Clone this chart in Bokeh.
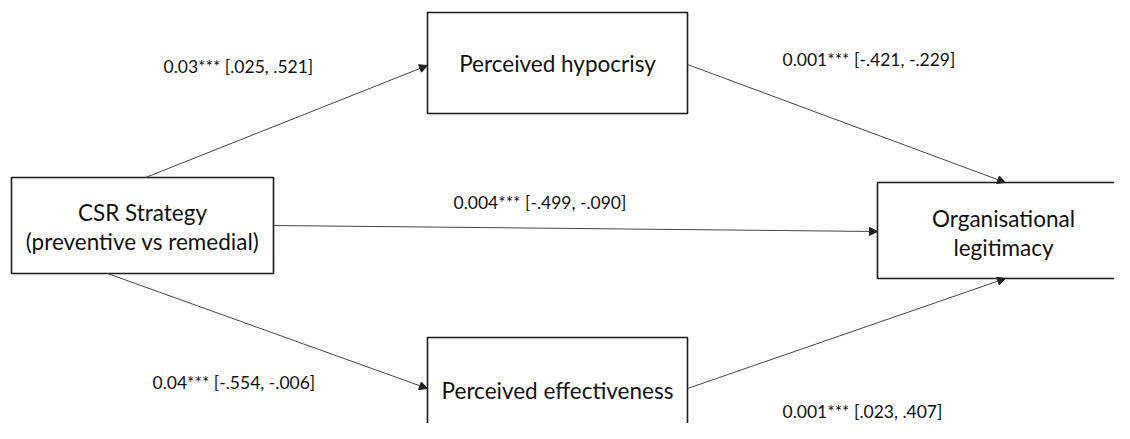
from bokeh.plotting import figure
from bokeh.models import Range1d, Arrow, NormalHead, ColumnDataSource
from bokeh.core.properties import value
from bokeh.embed import file_html
from bokeh.resources import INLINE

# ---- content ----
node_names = ["CSR Strategy\n(preventive vs remedial)", "Perceived hypocrisy",
              "Organisational\nlegitimacy", "Perceived effectiveness"]
path_labels = ["0.03*** [.025, .521]", "0.001*** [-.421, -.229]",
               "0.004*** [-.499, -.090]", "0.04*** [-.554, -.006]",
               "0.001*** [.023, .407]"]

# ---- layout (pixel coordinates of the reference picture) ----
boxes = {  # left, right, top, bottom
    0: (11, 273, 177, 273),
    1: (427, 687, 12, 113),
    2: (877, 1150, 182, 278),
    3: (427, 687, 337, 470),
}
node_text_pos = {0: (142, 226.5), 1: (557, 63), 2: (1003, 232.5), 3: (557, 390)}
arrows = [  # x0, y0, x1, y1
    (145, 177, 427, 65),
    (687, 64, 1005, 182),
    (273, 225, 877, 231),
    (107, 273, 427, 388),
    (687, 388, 1005, 278),
]
label_pos = [(163, 66), (782, 59), (453, 202), (152, 382), (782, 411)]

W, H = 1114, 423
p = figure(width=W, height=H, x_range=Range1d(0, W), y_range=Range1d(H, 0),
           output_backend="svg", toolbar_location=None, min_border=0)
p.axis.visible = False
p.grid.visible = False
p.outline_line_color = None
p.background_fill_color = "white"
p.border_fill_color = "white"

for (x0, y0, x1, y1) in arrows:
    p.add_layout(Arrow(end=NormalHead(size=8, fill_color="#222222", line_color="#222222", line_width=1),
                       x_start=x0, y_start=y0, x_end=x1, y_end=y1,
                       line_color="#444444", line_width=1))

src = ColumnDataSource(dict(
    left=[boxes[i][0] for i in range(4)], right=[boxes[i][1] for i in range(4)],
    top=[boxes[i][2] for i in range(4)], bottom=[boxes[i][3] for i in range(4)]))
p.quad(left="left", right="right", top="top", bottom="bottom", source=src,
       fill_color="white", line_color="#1a1a1a", line_width=1.6)

p.text(x=[node_text_pos[i][0] for i in range(4)], y=[node_text_pos[i][1] for i in range(4)],
       text=node_names, text_align="center", text_baseline="middle",
       text_font=value("Lato"), text_font_size="22.5px", text_color="#111111",
       text_line_height=1.1)

p.text(x=[lp[0] for lp in label_pos], y=[lp[1] for lp in label_pos], text=path_labels,
       text_align="left", text_baseline="middle", text_font=value("Lato"),
       text_font_size="17.5px", text_color="#111111")

open("out.html", "w").write(file_html(p, INLINE))
